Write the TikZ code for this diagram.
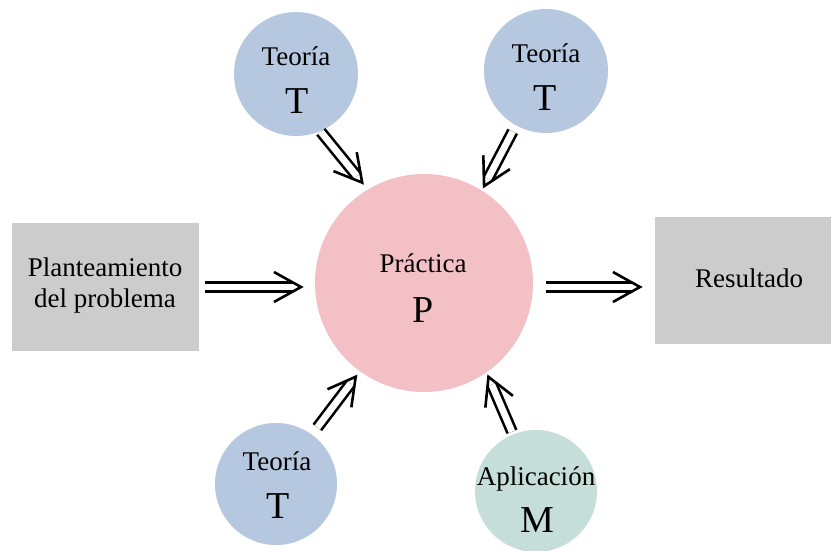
\documentclass[tikz,border=0pt]{standalone}
\usepackage{fontspec}
\setmainfont{Liberation Serif}
\usetikzlibrary{calc}
\definecolor{cblue}{RGB}{182,199,224}
\definecolor{cpink}{RGB}{242,192,197}
\definecolor{cgreen}{RGB}{198,222,217}
\definecolor{cgray}{RGB}{204,204,204}
\tikzset{
  disc/.style={circle, minimum size=#1, inner sep=0pt, outer sep=0pt},
  box/.style={rectangle, fill=cgray, inner sep=0pt, outer sep=0pt},
  lbl/.style={anchor=base, inner sep=0pt, font=\fontsize{27}{32}\selectfont},
  big/.style={anchor=base, inner sep=0pt, font=\fontsize{38}{44}\selectfont},
  dline/.style={draw=black, line width=2.6pt, double=white, double distance=6.7pt},
  chev/.style={draw=black, line width=2.6pt, line join=miter, line cap=butt},
}
\newcommand\dblarrow[4]{%
  \coordinate (s) at ($(#1)!#3!(#2)$);
  \coordinate (e) at ($(#2)!#4!(#1)$);
  \coordinate (b) at ($(e)!8.5pt!(s)$);
  \draw[dline] (s) -- (b);
  \draw[chev] ($(e)!30.9pt!29:(s)$) -- (e) -- ($(e)!30.9pt!-29:(s)$);
}
\begin{document}
\begin{tikzpicture}[x=1pt, y=-1pt]
\useasboundingbox (0,0) rectangle (831,550);
\fill[white] (0,0) rectangle (831,550);
% shapes
\node[disc=218pt, fill=cpink] (P) at (424,283) {};
\node[disc=124pt, fill=cblue] (tl) at (296,74) {};
\node[disc=124pt, fill=cblue] (tr) at (546,71) {};
\node[disc=122pt, fill=cblue] (bl) at (276,484) {};
\node[disc=122pt, fill=cgreen] (br) at (536,491) {};
\node[box, minimum width=187pt, minimum height=128pt] (lr) at (105.5,287) {};
\node[box, minimum width=176pt, minimum height=127pt] (rr) at (743,280.5) {};
% texts
\node[lbl] (Pt) at (423,272) {Práctica};
\node[big] (Pl) at (423,322) {P};
\node[lbl] (tlt) at (296,65) {Teoría};
\node[big] (tll) at (297,113) {T};
\node[lbl] (trt) at (546,62) {Teoría};
\node[big] (trl) at (545,110) {T};
\node[lbl] (blt) at (277,470) {Teoría};
\node[big] (bll) at (278,518) {T};
\node[lbl] (brt) at (536,485) {Aplicación};
\node[big] (brl) at (537,532) {M};
\node[lbl] (lrt1) at (105,276) {Planteamiento};
\node[lbl] (lrt2) at (105,307) {del problema};
\node[lbl] (rrt) at (749,287) {Resultado};
% arrows
\coordinate (Pw) at (P.west |- lr.east);
\coordinate (Pe) at (P.east |- lr.east);
\coordinate (Rw) at (rr.west |- lr.east);
\dblarrow{lr.east}{Pw}{6pt}{14pt}
\dblarrow{Pe}{Rw}{13pt}{15pt}
\dblarrow{tl.-67.5}{P.121}{1pt}{9pt}
\dblarrow{tr.241.6}{P.58.9}{7pt}{5pt}
\dblarrow{bl.54.3}{P.234.8}{9pt}{7pt}
\dblarrow{br.112.1}{P.-55.8}{3pt}{5pt}
\end{tikzpicture}
\end{document}
